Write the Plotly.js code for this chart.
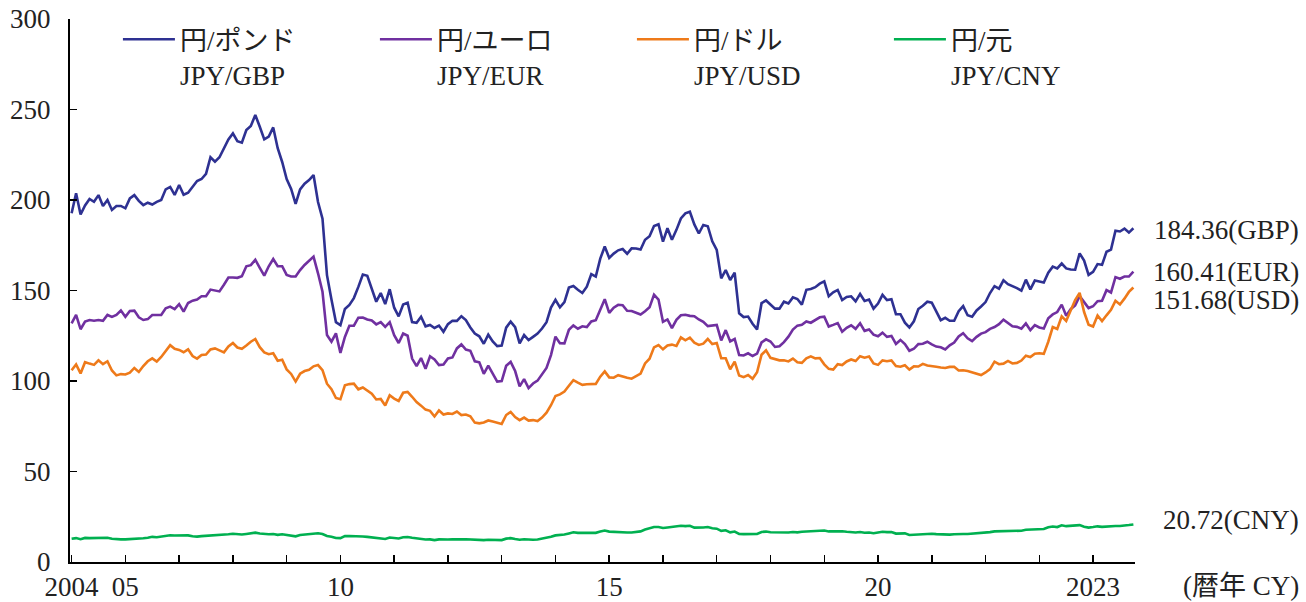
<!DOCTYPE html>
<html>
<head>
<meta charset="utf-8">
<script src="https://cdn.plot.ly/plotly-3.0.1.min.js"></script>
<style>html,body{margin:0;padding:0;background:#fff;}#chart{width:1306px;height:602px;}</style>
</head>
<body>
<div id="chart"></div>
<script>
// Monthly end-of-month rates, Jan 2004 – Oct 2023 (yen per unit)
const startYear = 2004;
const gbp = [
192.7,203.7,192.0,197.0,200.6,199.0,202.7,196.7,200.0,194.5,196.7,196.7,
195.4,200.9,202.7,199.5,197.2,198.5,197.5,199.0,200.0,205.9,207.2,202.8,
208.3,202.9,204.0,207.0,210.5,211.6,214.4,223.6,221.2,223.6,228.6,233.5,
236.8,232.5,231.7,238.7,240.9,247.0,240.5,233.5,235.0,240.1,228.6,221.0,
211.6,206.1,197.8,205.9,209.0,211.0,213.8,198.9,189.7,158.5,145.0,132.5,
130.8,139.8,142.0,145.8,152.0,158.8,158.1,150.8,143.8,148.6,142.5,150.7,
140.5,135.7,142.3,143.2,132.6,132.2,135.5,130.2,131.0,129.3,130.6,127.2,
131.4,133.3,133.2,135.8,133.7,129.6,126.2,124.7,120.6,125.6,121.9,119.3,
119.6,129.5,132.8,129.8,120.8,125.4,122.6,124.4,126.2,129.0,132.5,140.6,
144.9,140.7,143.6,151.6,152.5,150.4,148.6,152.1,159.1,157.7,167.6,174.3,
168.0,170.4,172.2,172.9,170.3,173.3,173.2,172.6,178.0,180.0,185.6,186.6,
177.0,184.4,178.0,183.5,189.8,192.6,193.5,186.5,181.5,186.2,185.5,177.2,
172.4,156.7,161.3,155.8,159.8,137.4,135.3,135.6,131.6,128.5,143.0,144.5,
142.0,140.0,140.0,143.8,142.8,146.2,145.3,142.2,150.4,150.8,151.8,153.8,
155.0,146.8,149.0,150.3,144.7,146.4,146.8,144.0,148.1,144.2,145.0,140.0,
142.8,147.6,144.7,145.2,136.9,136.9,132.2,129.6,133.0,139.8,141.6,143.8,
143.3,138.5,133.6,134.9,133.3,133.3,138.6,141.4,136.3,135.5,139.0,141.2,
143.6,148.6,152.4,151.0,155.6,153.5,152.6,151.3,149.9,156.0,150.6,155.5,
155.0,154.4,159.8,163.2,162.2,164.9,162.2,161.6,161.5,170.5,166.5,158.6,
160.3,164.6,164.2,171.4,172.6,183.0,182.6,184.2,182.0,184.36
];
const eur = [
131.9,136.5,128.6,132.8,133.7,133.3,133.7,133.3,136.5,135.4,136.5,138.9,
135.5,138.7,138.9,135.2,133.7,134.2,136.5,136.5,136.5,140.2,141.1,139.7,
142.5,138.3,143.1,144.4,145.0,146.8,146.8,150.5,150.0,149.5,153.2,157.2,
157.2,157.0,157.9,163.4,164.0,167.0,162.5,158.2,163.4,167.4,163.4,163.4,
158.6,157.7,157.7,161.3,164.1,166.5,168.7,159.5,149.3,125.4,121.7,126.3,
115.5,124.3,130.5,130.6,135.0,135.1,134.0,133.4,131.3,132.5,129.9,132.5,
125.3,121.0,126.2,125.0,112.4,108.2,112.7,106.8,113.7,111.9,108.8,109.1,
112.5,113.0,118.0,120.2,117.4,116.7,110.9,110.3,104.0,108.5,104.4,99.7,
100.0,108.4,110.6,105.5,97.0,101.0,96.1,98.6,100.2,103.4,107.2,114.3,
124.5,120.9,120.8,128.3,130.7,128.9,130.2,129.8,132.9,133.6,139.2,145.2,
137.6,140.5,142.1,141.9,138.8,138.7,137.7,136.7,138.5,140.7,147.7,145.0,
132.7,134.0,129.2,133.8,136.3,136.6,136.0,135.8,134.0,132.7,130.3,130.8,
131.0,122.4,128.1,121.9,123.2,114.3,114.1,115.3,113.8,115.1,121.3,123.0,
121.8,118.8,119.2,121.5,124.5,128.4,130.6,131.0,132.9,132.2,133.9,135.2,
135.5,130.1,131.0,132.0,127.2,129.4,130.8,128.8,131.9,127.7,128.5,125.6,
124.7,126.7,124.4,124.9,120.5,122.7,120.4,116.7,117.8,120.4,120.6,121.7,
120.2,119.0,118.6,117.4,119.7,121.2,124.6,126.4,123.6,122.0,124.4,126.2,
127.0,128.8,129.8,131.4,133.9,131.8,130.2,129.9,128.9,131.8,128.1,130.9,
129.6,129.0,134.7,136.8,138.1,142.2,136.1,139.7,141.8,146.9,143.6,140.3,
141.3,144.1,144.3,150.2,148.9,157.4,156.5,157.7,157.7,160.41
];
const usd = [
105.9,109.1,104.2,110.4,109.6,108.9,111.4,109.3,110.9,105.8,103.1,103.8,
103.6,104.6,107.2,105.0,108.3,110.9,112.5,110.7,113.3,116.4,119.8,117.8,
117.2,115.9,117.5,113.8,112.4,114.4,114.6,117.4,118.0,116.9,115.8,119.1,
121.0,118.5,117.8,119.6,121.7,123.2,118.7,115.8,114.8,115.3,111.2,111.7,
106.4,103.9,99.7,104.0,105.5,106.2,108.1,108.8,106.0,98.5,95.5,90.6,
89.9,97.6,98.3,98.5,95.4,96.4,94.7,93.0,89.8,90.1,86.5,92.1,
90.3,89.0,93.5,94.0,91.3,88.4,86.4,84.2,83.5,80.4,83.7,81.5,
82.1,81.8,83.1,81.2,81.5,80.5,77.0,76.6,77.1,78.2,77.6,76.9,
76.3,81.2,82.9,80.1,78.4,79.8,78.1,78.4,77.9,79.8,82.5,86.6,
91.7,92.6,94.2,97.4,100.5,99.1,97.9,98.2,98.3,98.4,102.4,105.3,
102.0,101.8,103.2,102.3,101.8,101.3,102.8,104.1,109.7,112.3,118.6,119.8,
117.5,119.6,120.1,119.4,124.1,122.5,123.9,121.2,119.9,120.6,123.2,120.4,
121.0,112.6,112.6,106.5,110.7,103.0,102.1,103.3,101.2,104.8,114.5,116.9,
112.8,112.1,111.4,111.5,110.8,112.4,110.3,110.0,112.5,113.6,112.5,112.7,
109.2,106.7,106.3,109.3,108.8,110.8,111.9,111.0,113.7,112.9,113.5,109.7,
108.9,111.4,110.9,111.4,108.3,107.9,108.7,106.3,108.1,108.0,109.5,108.6,
108.4,107.9,107.5,107.2,107.8,107.9,105.8,105.9,105.5,104.7,104.3,103.3,
104.7,106.6,110.7,109.3,109.6,111.1,109.7,110.0,111.3,114.0,113.2,115.1,
115.3,115.0,121.7,129.8,128.7,135.7,133.2,139.0,144.7,148.7,138.1,131.1,
130.1,136.2,133.1,136.3,139.3,144.3,142.3,145.5,149.2,151.68
];
const cny = [
12.8,13.2,12.6,13.3,13.2,13.2,13.5,13.2,13.4,12.8,12.5,12.5,
12.5,12.6,13.0,12.7,13.1,13.4,13.9,13.7,14.0,14.4,14.8,14.6,
14.6,14.4,14.7,14.2,14.0,14.3,14.4,14.8,14.9,14.8,14.8,15.3,
15.6,15.3,15.2,15.5,15.9,16.2,15.7,15.3,15.3,15.5,15.0,15.3,
14.8,14.6,14.2,14.9,15.2,15.5,15.8,15.9,15.5,14.4,14.0,13.3,
13.2,14.3,14.4,14.4,14.0,14.1,13.9,13.6,13.2,13.2,12.7,13.5,
13.2,13.0,13.7,13.8,13.4,13.0,12.8,12.4,12.5,12.1,12.5,12.3,
12.4,12.5,12.7,12.5,12.6,12.5,12.0,12.0,12.1,12.3,12.2,12.2,
12.1,12.9,13.2,12.7,12.3,12.6,12.3,12.3,12.4,12.8,13.2,13.9,
14.7,14.9,15.2,15.8,16.4,16.1,16.0,16.0,16.1,16.1,16.8,17.4,
16.8,16.6,16.6,16.3,16.3,16.3,16.6,16.9,17.9,18.4,19.3,19.3,
18.8,19.1,19.4,19.3,20.0,19.8,20.0,19.0,18.9,19.1,19.3,18.6,
18.4,17.2,17.5,16.4,16.8,15.5,15.4,15.5,15.2,15.5,16.6,16.8,
16.4,16.3,16.2,16.2,16.3,16.6,16.4,16.7,16.9,17.1,17.0,17.3,
17.4,16.9,16.9,17.3,17.0,16.7,16.4,16.3,16.6,16.2,16.3,15.9,
16.3,16.7,16.5,16.6,15.7,15.7,15.8,14.9,15.1,15.3,15.6,15.6,
15.6,15.4,15.2,15.2,15.1,15.3,15.2,15.5,15.5,15.7,15.9,15.8,
16.2,16.5,16.9,16.9,17.2,17.2,17.0,17.0,17.3,17.8,17.8,18.1,
18.1,18.2,19.2,19.6,19.3,20.3,19.8,20.1,20.4,20.4,19.5,19.0,
19.3,19.7,19.4,19.7,19.6,19.9,19.9,20.0,20.4,20.72
];

const seriesNames = ["円/ポンド<br>JPY/GBP", "円/ユーロ<br>JPY/EUR", "円/ドル<br>JPY/USD", "円/元<br>JPY/CNY"];
const endLabels = ["184.36(GBP)", "160.41(EUR)", "151.68(USD)", "20.72(CNY)"];
const endLabelY = [183.4, 160.4, 144.8, 23.2];
const tickYears = [2004,2005,2006,2007,2008,2009,2010,2011,2012,2013,2014,2015,2016,2017,2018,2019,2020,2021,2022,2023];
const tickLabels = ["2004","05","","","","10","","","","","15","","","","","20","","","","2023"];
const yTicks = [0,50,100,150,200,250,300];
const colors = ["#2E3192", "#7030A0", "#EE7A1A", "#00B050"];

// x positions: month index converted to fractional years
const x = gbp.map((_, i) => startYear + i / 12);

const serif = "Liberation Serif, 'Noto Sans CJK JP', serif";
const txt = "#222";
const FS = 27;
const data = [gbp, eur, usd, cny].map((ys, k) => ({
  type: "scatter", mode: "lines", x: x, y: ys, name: seriesNames[k],
  line: {color: colors[k], width: 2.6}, hoverinfo: "skip"
}));

const annotations = endLabels.map((t, k) => ({
  xref: "paper", yref: "y", x: 1.1559, y: endLabelY[k], xanchor: "right", yanchor: "middle",
  text: t, showarrow: false, font: {family: serif, size: FS, color: txt}
}));
annotations.push({
  xref: "paper", yref: "paper", x: 1.1555, y: -0.045, xanchor: "right", yanchor: "middle",
  text: "(暦年 CY)", showarrow: false, font: {family: serif, size: FS, color: txt}
});

const layout = {
  width: 1306, height: 602,
  margin: {l: 70, r: 171, t: 19, b: 40},
  paper_bgcolor: "#fff", plot_bgcolor: "#fff",
  font: {family: serif, size: FS, color: txt},
  showlegend: true,
  legend: {
    orientation: "h", x: 0.045, y: 1.007, xanchor: "left", yanchor: "top",
    itemwidth: 52, entrywidth: 190, entrywidthmode: "pixels", valign: "top",
    bgcolor: "rgba(0,0,0,0)", font: {family: serif, size: FS, color: txt},
    itemclick: false, itemdoubleclick: false
  },
  xaxis: {
    range: [2003.97, 2023.78], showgrid: false, zeroline: false,
    showline: true, linecolor: "#000", linewidth: 2,
    ticks: "inside", ticklen: 7, tickwidth: 1.5, tickcolor: "#000",
    tickvals: tickYears, ticktext: tickLabels, ticklabelstandoff: 0,
    tickfont: {family: serif, size: FS, color: txt}
  },
  yaxis: {
    range: [0, 300], showgrid: false, zeroline: false,
    showline: true, linecolor: "#000", linewidth: 2,
    ticks: "inside", ticklen: 7, tickwidth: 1.5, tickcolor: "#000",
    tickvals: yTicks, ticklabelstandoff: 12,
    tickfont: {family: serif, size: FS, color: txt}
  },
  annotations: annotations
};

Plotly.newPlot("chart", data, layout, {displayModeBar: false, staticPlot: true});
</script>
</body>
</html>
